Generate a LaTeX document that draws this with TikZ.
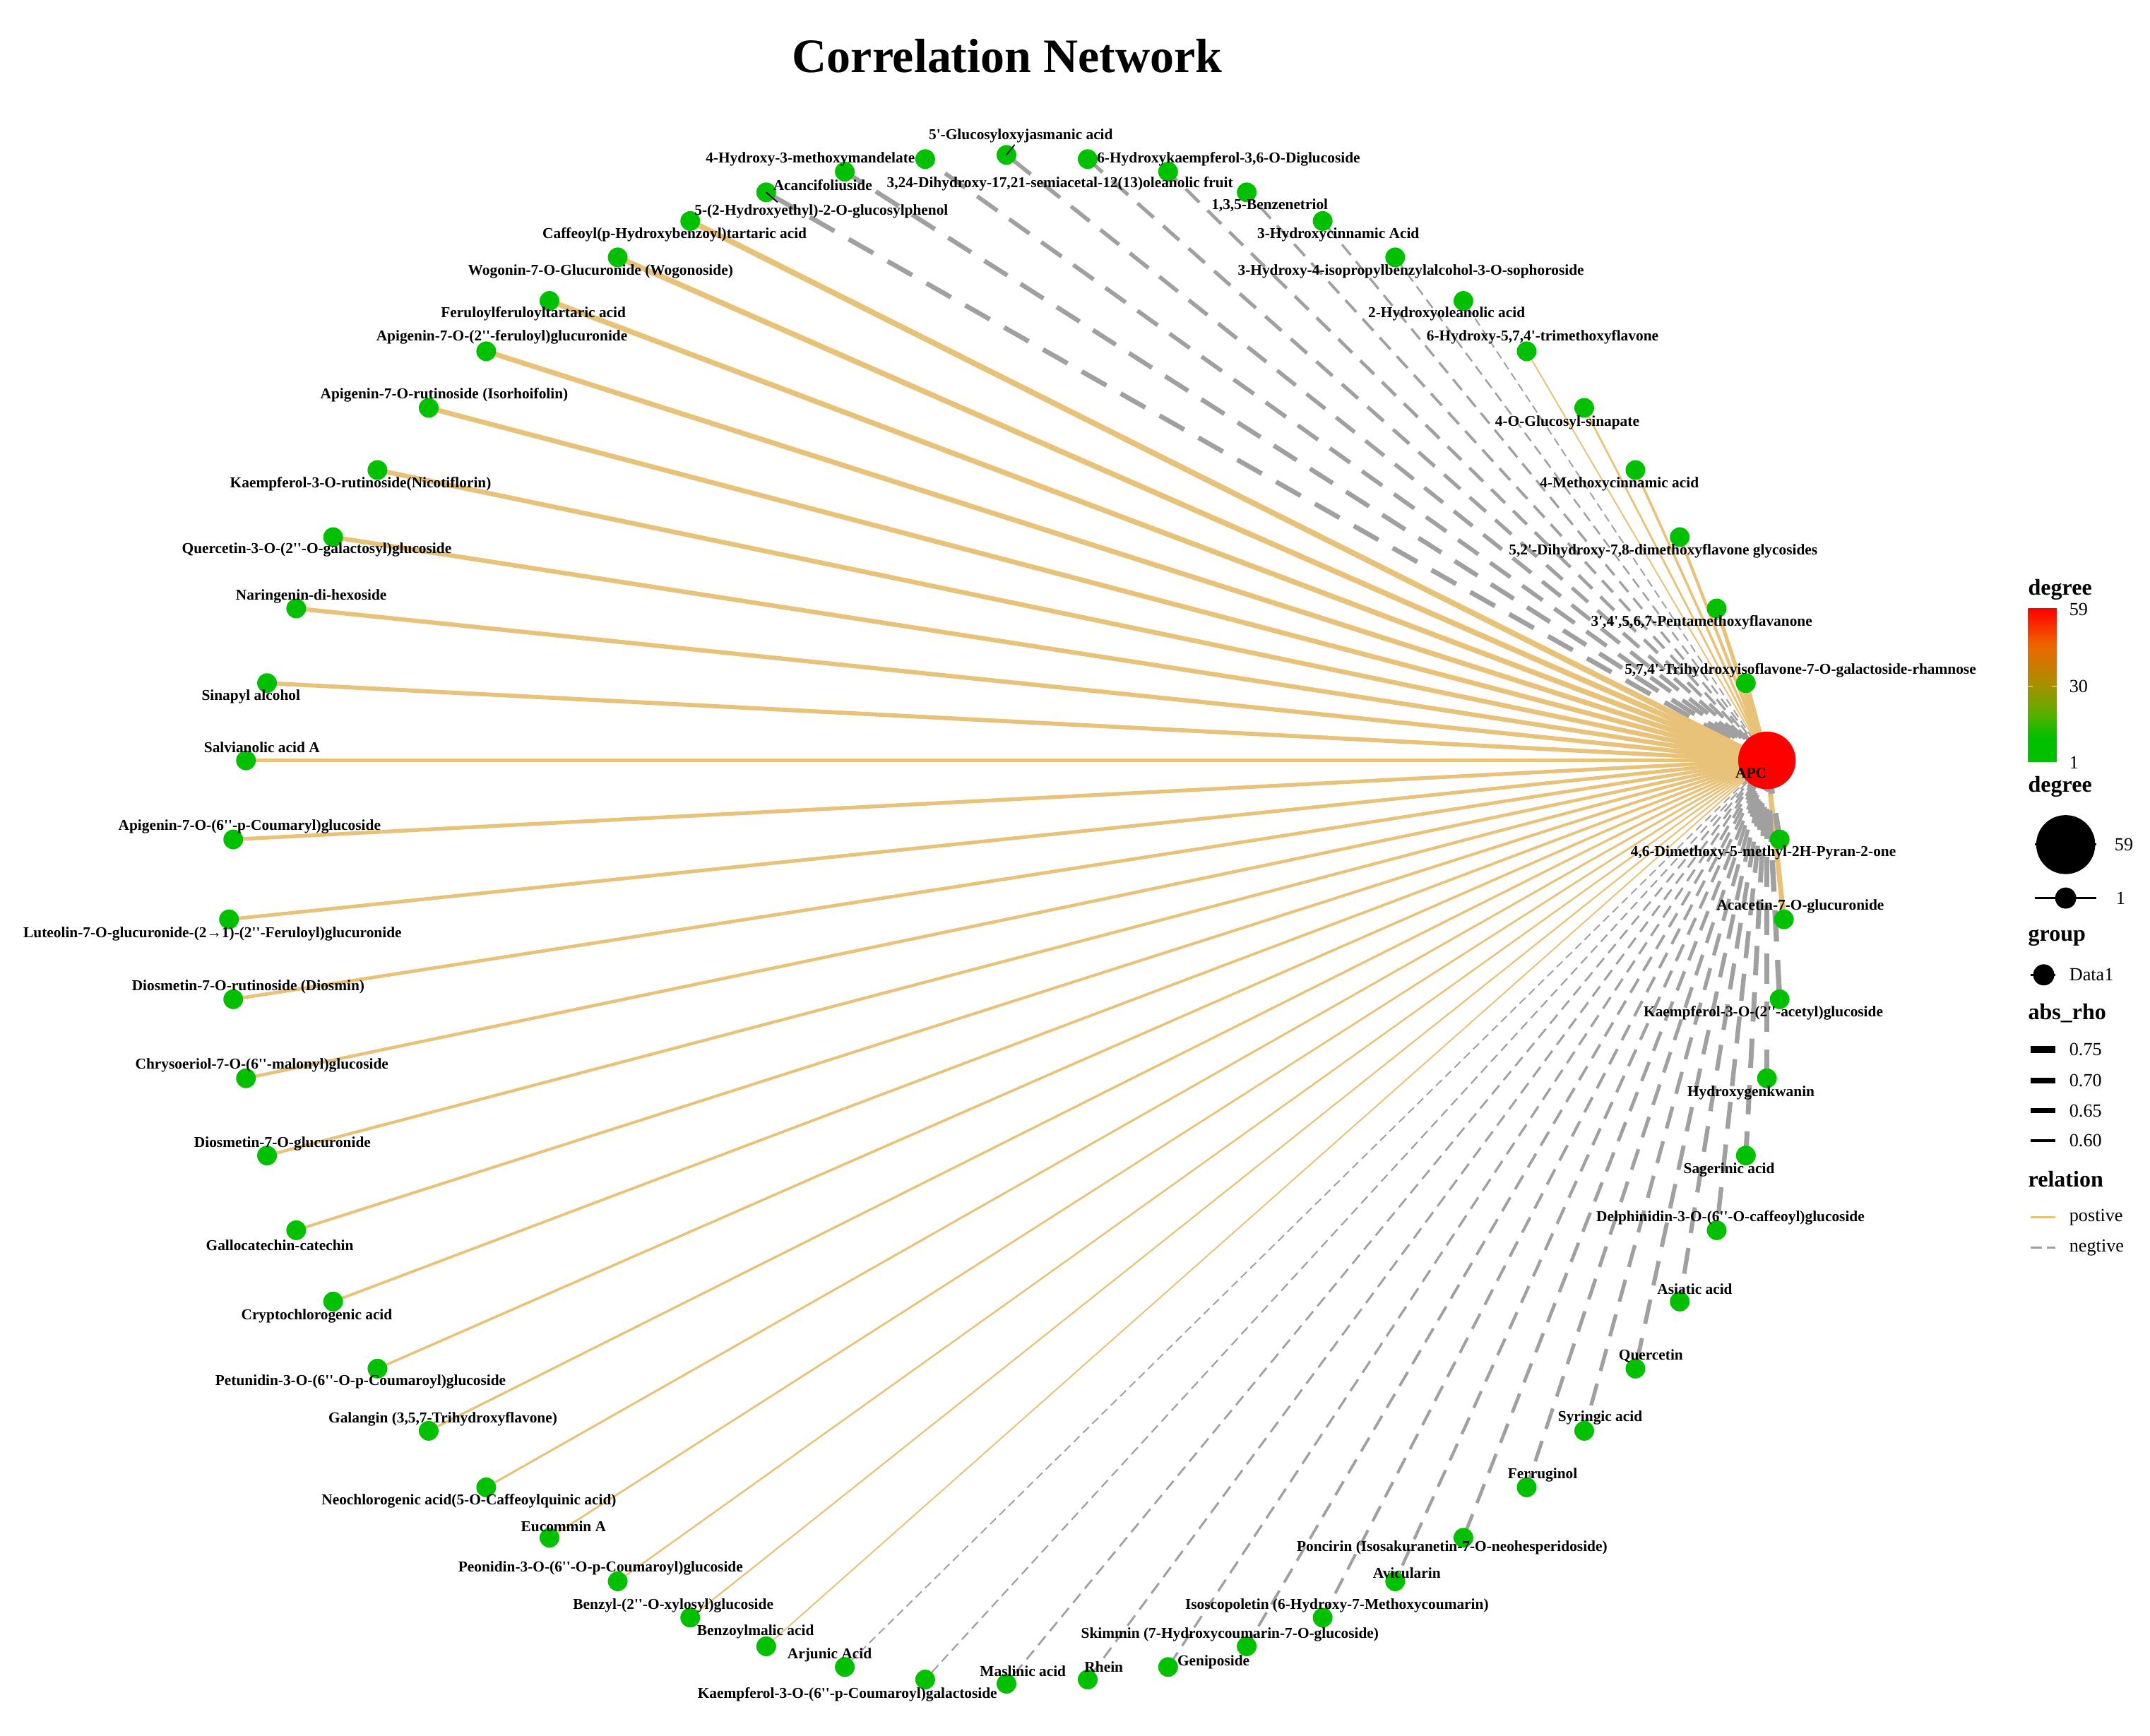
\documentclass[tikz,border=0pt]{standalone}
\usepackage{fontspec}
\setmainfont{Liberation Serif}[Ligatures=TeXOff]
\definecolor{org}{HTML}{E9C27A}
\definecolor{gry}{HTML}{A0A0A0}
\definecolor{grn}{HTML}{00C000}
\definecolor{rd}{HTML}{FF0000}
\definecolor{olv}{RGB}{165,145,0}
\definecolor{orng}{RGB}{240,100,0}
\definecolor{lgrn}{RGB}{90,175,0}
\pgfdeclarelayer{bg}
\pgfdeclarelayer{fg}
\pgfsetlayers{bg,main,fg}
\tikzset{
  gnode/.style={circle, fill=grn, draw=none, minimum size=14.4pt, inner sep=0pt},
  apcnode/.style={circle, fill=rd, draw=none, minimum size=42pt, inner sep=0pt},
  lbl/.style={font=\bfseries\fontsize{11}{12}\selectfont, inner sep=0pt, text=black},
  epos/.style={draw=org},
  eneg/.style={draw=gry, dash pattern=on \dOn pt off \dOff pt},
  ttl/.style={font=\bfseries\fontsize{16.5}{18}\selectfont, inner sep=0pt, anchor=west},
  lgl/.style={font=\fontsize{13.5}{15}\selectfont, inner sep=0pt, anchor=west},
  seg/.style={draw=black, line width=0.9pt},
}
\begin{document}
\begin{tikzpicture}[x=1pt,y=-1pt]
\begin{pgfonlayer}{bg}
\fill[white] (0,0) rectangle (1568,1266);
\end{pgfonlayer}
\useasboundingbox (0,0) rectangle (1568,1266);

\node[font=\bfseries\fontsize{35}{40}\selectfont, anchor=base, inner sep=0pt] (title) at (734.5,53) {Correlation Network};

\node[apcnode] (apc) at ({734+567*cos(12)},{670.5-557.5*sin(12)}) {};

\foreach \ang/\ty/\lw/\lx/\ly/\txt in {
 0/epos/3.0/1313/661/{Acacetin-7-O-glucuronide},
 18/epos/3.2/1313/489/{5,7,4'-Trihydroxyisoflavone-7-O-galactoside-rhamnose},
 24/epos/2.3/1241/454/{3',4',5,6,7-Pentamethoxyflavanone},
 30/epos/1.9/1213/402/{5,2'-Dihydroxy-7,8-dimethoxyflavone glycosides},
 36/epos/1.6/1181/353/{4-Methoxycinnamic acid},
 42/epos/1.3/1143/308/{4-O-Glucosyl-sinapate},
 48/epos/1.0/1125/246/{6-Hydroxy-5,7,4'-trimethoxyflavone},
 54/eneg/1.0/1055/229/{2-Hydroxyoleanolic acid},
 60/eneg/1.2/1029/198/{3-Hydroxy-4-isopropylbenzylalcohol-3-O-sophoroside},
 66/eneg/1.5/976/171/{3-Hydroxycinnamic Acid},
 72/eneg/1.7/926/150/{1,3,5-Benzenetriol},
 78/eneg/2.0/773/134/{3,24-Dihydroxy-17,21-semiacetal-12(13)oleanolic fruit},
 84/eneg/2.2/896/116/{6-Hydroxykaempferol-3,6-O-Diglucoside},
 90/eneg/2.4/744.5/99/{5'-Glucosyloxyjasmanic acid},
 96/eneg/2.5/591/116/{4-Hydroxy-3-methoxymandelate},
 102/eneg/2.7/600/135/{Acancifoliuside},
 108/eneg/2.8/599/154/{5-(2-Hydroxyethyl)-2-O-glucosylphenol},
 114/epos/3.3/492/171/{Caffeoyl(p-Hydroxybenzoyl)tartaric acid},
 120/epos/3.2/438/198/{Wogonin-7-O-Glucuronide (Wogonoside)},
 126/epos/3.1/389/229/{Feruloylferuloyltartaric acid},
 132/epos/3.0/366/246/{Apigenin-7-O-(2''-feruloyl)glucuronide},
 138/epos/2.9/324/288/{Apigenin-7-O-rutinoside (Isorhoifolin)},
 144/epos/2.8/263/353/{Kaempferol-3-O-rutinoside(Nicotiflorin)},
 150/epos/2.7/231/401/{Quercetin-3-O-(2''-O-galactosyl)glucoside},
 156/epos/2.6/227/435/{Naringenin-di-hexoside},
 162/epos/2.5/183/508/{Sinapyl alcohol},
 168/epos/2.4/191/545/{Salvianolic acid A},
 174/epos/2.3/182/603/{Apigenin-7-O-(6''-p-Coumaryl)glucoside},
 180/epos/2.2/155/681/{Luteolin-7-O-glucuronide-(2→1)-(2''-Feruloyl)glucuronide},
 186/epos/2.1/181/720/{Diosmetin-7-O-rutinoside (Diosmin)},
 192/epos/2.0/191/777/{Chrysoeriol-7-O-(6''-malonyl)glucoside},
 198/epos/1.9/206/834/{Diosmetin-7-O-glucuronide},
 204/epos/1.8/204/908/{Gallocatechin-catechin},
 210/epos/1.7/231/960/{Cryptochlorogenic acid},
 216/epos/1.6/263/1008/{Petunidin-3-O-(6''-O-p-Coumaroyl)glucoside},
 222/epos/1.5/323/1035/{Galangin (3,5,7-Trihydroxyflavone)},
 228/epos/1.4/342/1095/{Neochlorogenic acid(5-O-Caffeoylquinic acid)},
 234/epos/1.3/411/1113/{Eucommin A},
 240/epos/1.2/438/1144/{Peonidin-3-O-(6''-O-p-Coumaroyl)glucoside},
 246/epos/1.1/491/1171/{Benzyl-(2''-O-xylosyl)glucoside},
 252/epos/1.0/551/1190/{Benzoylmalic acid},
 258/eneg/1.0/605/1207/{Arjunic Acid},
 264/eneg/1.1/618/1236/{Kaempferol-3-O-(6''-p-Coumaroyl)galactoside},
 270/eneg/1.3/746/1219/{Maslinic acid},
 276/eneg/1.4/805/1216/{Rhein},
 282/eneg/1.5/885/1212/{Geniposide},
 288/eneg/1.7/897/1192/{Skimmin (7-Hydroxycoumarin-7-O-glucoside)},
 294/eneg/1.8/975/1171/{Isoscopoletin (6-Hydroxy-7-Methoxycoumarin)},
 300/eneg/1.9/1026/1147/{Avicularin},
 306/eneg/2.1/1059/1129/{Poncirin (Isosakuranetin-7-O-neohesperidoside)},
 312/eneg/2.2/1125/1076/{Ferruginol},
 318/eneg/2.3/1167/1034/{Syringic acid},
 324/eneg/2.5/1204/989/{Quercetin},
 330/eneg/2.6/1236/940/{Asiatic acid},
 336/eneg/2.7/1262/888/{Delphinidin-3-O-(6''-O-caffeoyl)glucoside},
 342/eneg/2.9/1261/853/{Sagerinic acid},
 348/eneg/3.0/1277/797/{Hydroxygenkwanin},
 354/eneg/3.1/1286/739/{Kaempferol-3-O-(2''-acetyl)glucoside},
 6/eneg/3.3/1286/622/{4,6-Dimethoxy-5-methyl-2H-Pyran-2-one}
}{
  \node[gnode] (n\ang) at ({734+567*cos(\ang)},{670.5-557.5*sin(\ang)}) {};
  \pgfmathsetmacro\lwx{1+(\lw-1)*1.35}
  \pgfmathsetmacro\dOn{6*\lwx}
  \pgfmathsetmacro\dOff{3.5*\lwx}
  \begin{pgfonlayer}{bg}
    \draw[\ty, line width=\lwx pt] (apc.center) -- (n\ang.center);
  \end{pgfonlayer}
  \begin{pgfonlayer}{fg}
    \node[lbl] (l\ang) at (\lx,\ly) {\txt};
  \end{pgfonlayer}
}

\begin{pgfonlayer}{fg}
  \node[lbl] (apcl) at (1277,564) {APC};
  \coordinate (s90) at (740,105.5);
  \coordinate (s108) at (567,147.5);
  \draw[seg] (n90.center) -- (s90);
  \draw[seg] (n108.center) -- (s108);
\end{pgfonlayer}

% legend
\node[ttl] (lgdeg) at (1479,430) {degree};
\fill[grn] (1479,556) rectangle (1500,538);
\shade[bottom color=grn, top color=lgrn] (1479,538.5) rectangle (1500,520);
\shade[bottom color=lgrn, top color=olv] (1479,520.5) rectangle (1500,500);
\shade[bottom color=olv, top color=orng] (1479,500.5) rectangle (1500,470);
\shade[bottom color=orng, top color=rd] (1479,470.5) rectangle (1500,444);
\draw[white, line width=0.8pt] (1479,500.5) -- (1482.5,500.5);
\draw[white, line width=0.8pt] (1496.5,500.5) -- (1500,500.5);
\node[lgl] (c59) at (1509,444.5) {59};
\node[lgl] (c30) at (1509,500.5) {30};
\node[lgl] (c1) at (1509,556) {1};

\node[ttl] (lgdeg2) at (1479,574) {degree};
\draw[line width=1.5pt] (1484,616) -- (1529,616);
\fill[black] (1506.5,616) circle (21.5);
\node[lgl] (s59) at (1542,616) {59};
\draw[line width=1.5pt] (1484,655) -- (1529,655);
\fill[black] (1506.5,655) circle (7.7);
\node[lgl] (s1) at (1543,655) {1};

\node[ttl] (lggrp) at (1479,684) {group};
\draw[line width=1.5pt] (1481,711) -- (1499,711);
\fill[black] (1490.5,711) circle (7.7);
\node[lgl] (gd1) at (1509,711) {Data1};

\node[ttl] (lgrho) at (1479,739) {abs\_rho};
\draw[line width=4.8pt] (1481,765.5) -- (1499,765.5);
\draw[line width=4.0pt] (1481,788) -- (1499,788);
\draw[line width=3.2pt] (1481,810) -- (1499,810);
\draw[line width=2.2pt] (1481,832) -- (1499,832);
\node[lgl] (r75) at (1509,765.5) {0.75};
\node[lgl] (r70) at (1509,788) {0.70};
\node[lgl] (r65) at (1509,810) {0.65};
\node[lgl] (r60) at (1509,832) {0.60};

\node[ttl] (lgrel) at (1479,860) {relation};
\draw[org, line width=1.5pt] (1481,888) -- (1499,888);
\draw[gry, line width=1.5pt, dash pattern=on 8pt off 4pt] (1481,910) -- (1499,910);
\node[lgl] (kpos) at (1509,888) {postive};
\node[lgl] (kneg) at (1509,910) {negtive};
\end{tikzpicture}
\end{document}
